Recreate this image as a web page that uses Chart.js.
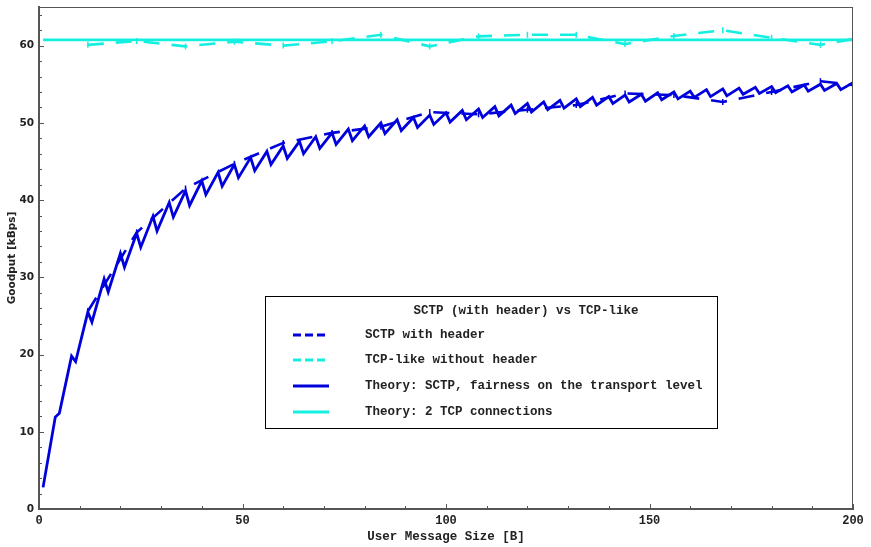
<!DOCTYPE html>
<html>
<head>
<meta charset="utf-8">
<script src="https://cdn.jsdelivr.net/npm/chart.js@4/dist/chart.umd.min.js"></script>
<style>
  html, body { margin: 0; padding: 0; background: #fff; }
  #wrap { width: 871px; height: 547px; position: relative; }
</style>
</head>
<body>
<div id="wrap"><canvas id="c" width="871" height="547"></canvas></div>
<script>
// ---- data ----
const theoryX = [1,4,5,8,9,12,13,16,17,20,21,24,25,28,29,32,33,36,37,40,41,44,45,48,49,52,53,56,57,60,61,64,65,68,69,72,73,76,77,80,81,84,85,88,89,92,93,96,97,100,101,104,105,108,109,112,113,116,117,120,121,124,125,128,129,132,133,136,137,140,141,144,145,148,149,152,153,156,157,160,161,164,165,168,169,172,173,176,177,180,181,184,185,188,189,192,193,196,197,200];
const theorySctp = [2.8,11.9,12.4,19.8,19.1,25.5,24.2,29.8,28.1,33.1,31.3,35.7,33.9,37.9,36.0,39.7,37.8,41.2,39.3,42.5,40.7,43.6,41.8,44.6,42.9,45.5,43.8,46.3,44.6,47.0,45.4,47.6,46.0,48.2,46.7,48.7,47.2,49.2,47.7,49.6,48.2,50.0,48.6,50.4,49.0,50.7,49.4,51.0,49.8,51.3,50.1,51.6,50.4,51.8,50.7,52.1,50.9,52.3,51.2,52.5,51.4,52.7,51.7,52.9,51.9,53.1,52.1,53.3,52.3,53.4,52.5,53.6,52.7,53.7,52.8,53.9,53.0,54.0,53.1,54.1,53.3,54.3,53.4,54.4,53.5,54.5,53.7,54.6,53.8,54.7,53.9,54.8,54.0,54.9,54.1,55.0,54.2,55.1,54.3,55.2];
const measX = [12,24,36,48,60,72,84,96,108,120,132,144,156,168,180,192,200];
const sctpHeader = [25.6,35.8,41.5,44.7,47.4,48.7,49.5,51.4,51.1,51.7,52.3,53.8,53.6,52.7,54.0,55.4,54.9];
const tcpLike = [60.1,60.6,59.9,60.5,60.0,60.55,61.4,59.9,61.2,61.4,61.4,60.2,61.25,62.0,61.0,60.1,60.85];
const tcpTheoryX = [1,200];
const tcpTheory = [60.75,60.75];
const seriesLabels = ['SCTP with header','TCP-like without header','Theory: SCTP, fairness on the transport level','Theory: 2 TCP connections'];
const legendTitle = 'SCTP (with header) vs TCP-like';
const xTitle = 'User Message Size [B]';
const yTitle = 'Goodput [kBps]';

const BLUE = '#0000dc';
const CYAN = '#14f0e0';
const pts = (xs, ys) => xs.map((x, i) => ({x: x, y: ys[i]}));

const insideTicks = {
  id: 'insideTicks',
  afterDatasetsDraw(chart) {
    const ctx = chart.ctx, a = chart.chartArea;
    const xs = chart.scales.x, ys = chart.scales.y;
    ctx.save();
    ctx.strokeStyle = '#555';
    ctx.lineWidth = 1;
    ctx.beginPath();
    ctx.moveTo(a.left, a.top + 0.5); ctx.lineTo(a.right, a.top + 0.5);
    ctx.moveTo(a.right - 0.5, a.top); ctx.lineTo(a.right - 0.5, a.bottom);
    ctx.stroke();
    ctx.beginPath();
    for (let v = 0; v <= 200; v += 10) {
      const p = Math.round(xs.getPixelForValue(v)) + 0.5;
      const len = (v % 50 === 0) ? 5 : 3;
      ctx.moveTo(p, a.bottom); ctx.lineTo(p, a.bottom - len);
    }
    for (let v = 0; v <= 64; v += 2) {
      const p = Math.round(ys.getPixelForValue(v)) + 0.5;
      const len = (v % 10 === 0) ? 5 : 3;
      ctx.moveTo(a.left, p); ctx.lineTo(a.left + len, p);
    }
    ctx.stroke();
    ctx.restore();
  }
};

const boxLegend = {
  id: 'boxLegend',
  afterDraw(chart) {
    const ctx = chart.ctx;
    const L = 265, T = 296, R = 717, B = 428;
    ctx.save();
    ctx.fillStyle = '#fff';
    ctx.fillRect(L, T, R - L, B - T);
    ctx.strokeStyle = '#000';
    ctx.lineWidth = 1;
    ctx.strokeRect(L + 0.5, T + 0.5, R - L, B - T);
    ctx.fillStyle = '#222';
    ctx.font = 'bold 12.5px "Liberation Mono", monospace';
    ctx.textBaseline = 'middle';
    ctx.textAlign = 'center';
    ctx.fillText(legendTitle, 526, 311);
    ctx.textAlign = 'left';
    const rows = [335, 360, 386, 412];
    chart.data.datasets.forEach((ds, i) => {
      const y = rows[i];
      ctx.strokeStyle = ds.borderColor;
      ctx.lineWidth = 3;
      ctx.setLineDash(ds.borderDash && ds.borderDash.length ? [8, 4] : []);
      ctx.beginPath();
      ctx.moveTo(293, y); ctx.lineTo(329, y);
      ctx.stroke();
      ctx.setLineDash([]);
      ctx.fillStyle = '#222';
      ctx.fillText(ds.label, 365, y);
    });
    ctx.restore();
  }
};

new Chart(document.getElementById('c'), {
  type: 'line',
  data: {
    datasets: [
      { label: seriesLabels[0], data: pts(measX, sctpHeader), borderColor: BLUE, backgroundColor: BLUE,
        borderWidth: 2.6, borderDash: [16, 12], pointStyle: 'line', pointRotation: 90, pointRadius: 3,
        pointBorderWidth: 1.5, order: 2, tension: 0 },
      { label: seriesLabels[1], data: pts(measX, tcpLike), borderColor: CYAN, backgroundColor: CYAN,
        borderWidth: 2.6, borderDash: [16, 12], pointStyle: 'line', pointRotation: 90, pointRadius: 3,
        pointBorderWidth: 1.5, order: 3, tension: 0 },
      { label: seriesLabels[2], data: pts(theoryX, theorySctp), borderColor: BLUE, backgroundColor: BLUE,
        borderWidth: 2.8, pointRadius: 0, order: 0, tension: 0 },
      { label: seriesLabels[3], data: pts(tcpTheoryX, tcpTheory), borderColor: CYAN, backgroundColor: CYAN,
        borderWidth: 2.8, pointRadius: 0, order: 1, tension: 0 }
    ]
  },
  options: {
    responsive: false,
    animation: false,
    layout: { padding: { top: 7, right: 18, left: 0, bottom: 0 } },
    plugins: { legend: { display: false }, tooltip: { enabled: false } },
    scales: {
      x: {
        type: 'linear', min: 0, max: 200,
        grid: { display: false, drawTicks: false, tickLength: 0 },
        border: { display: true, color: '#555', width: 2 },
        ticks: { stepSize: 50, color: '#222', padding: 5,
                 font: { family: '"Liberation Mono", monospace', weight: 'bold', size: 12 } },
        title: { display: true, text: xTitle, color: '#222', padding: { top: 0, bottom: 3 },
                 font: { family: '"Liberation Mono", monospace', weight: 'bold', size: 12.5 } },
        afterFit(s) { s.height = 38; }
      },
      y: {
        type: 'linear', min: 0, max: 65,
        grid: { display: false, drawTicks: false, tickLength: 0 },
        border: { display: true, color: '#555', width: 2 },
        ticks: { stepSize: 10, color: '#222', padding: 5,
                 callback: (v) => (v % 10 === 0 ? String(v) : ''),
                 font: { family: '"DejaVu Sans", sans-serif', weight: 'bold', size: 10.5 } },
        title: { display: true, text: yTitle, color: '#222', padding: { top: 6, bottom: 0 },
                 font: { family: '"DejaVu Sans", sans-serif', weight: 'bold', size: 10.5 } },
        afterFit(s) { s.width = 39; s.paddingTop = 0; s.paddingBottom = 0; }
      }
    }
  },
  plugins: [insideTicks, boxLegend]
});
</script>
</body>
</html>
